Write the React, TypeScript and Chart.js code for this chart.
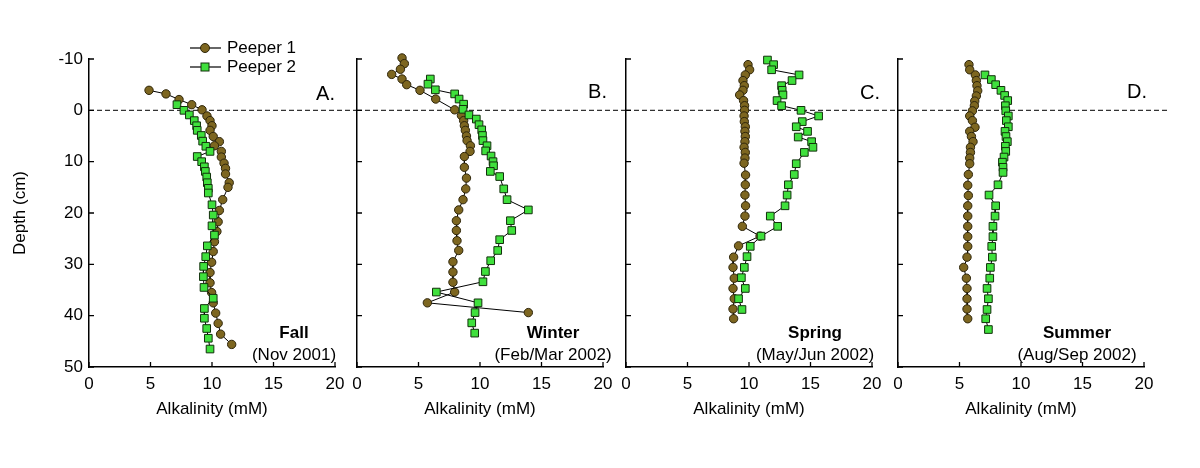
import React, { useEffect, useRef } from 'react';
import { Chart, registerables } from 'chart.js';

Chart.register(...registerables);

// ---------- DATA ----------
const xTicksStep = 5;
const yTicksStep = 10;
const seriesNames = ['Peeper 1', 'Peeper 2'];

// Panel A – Fall (Nov 2001)
const fallDepth1 = [-3.9, -3.2, -2.1, -1.1, -0.1, 1.1, 2.0, 3.0, 3.9, 5.1, 6.1, 6.9, 8.0, 9.1, 10.3, 11.3, 12.4, 14.1, 15.0, 17.4, 19.5, 21.7, 23.6, 25.6, 27.5, 29.6, 31.6, 33.6, 35.5, 37.5, 39.5, 41.5, 43.6, 45.6];
const fallAlk1 = [4.88, 6.26, 7.32, 8.35, 9.19, 9.59, 9.84, 10.0, 9.84, 10.1, 10.6, 10.2, 10.76, 10.76, 10.98, 11.1, 11.1, 11.4, 11.3, 10.87, 10.6, 10.5, 10.4, 10.2, 10.1, 9.97, 9.84, 9.84, 9.97, 10.1, 10.3, 10.5, 10.7, 11.6];
const fallDepth2 = [-1.1, 0.0, 0.9, 2.0, 3.0, 3.9, 4.9, 6.0, 7.0, 8.0, 9.0, 10.0, 11.0, 11.9, 13.0, 14.1, 15.2, 16.1, 18.4, 20.4, 22.5, 24.3, 26.4, 28.5, 30.4, 32.4, 34.5, 36.6, 38.6, 40.5, 42.5, 44.4, 46.5];
const fallAlk2 = [7.15, 7.72, 8.16, 8.56, 8.75, 8.8, 9.13, 9.24, 9.5, 9.84, 8.8, 9.16, 9.38, 9.46, 9.57, 9.62, 9.7, 9.7, 10.0, 10.1, 10.0, 10.2, 9.62, 9.49, 9.32, 9.3, 9.35, 10.1, 9.38, 9.38, 9.57, 9.7, 9.84];

// Panel B – Winter (Feb/Mar 2002)
const winterDepth1 = [-10.2, -9.1, -8.0, -7.0, -6.1, -5.0, -3.9, -2.2, -0.1, 1.0, 2.0, 3.0, 3.9, 5.0, 5.9, 6.9, 8.0, 9.0, 11.1, 13.2, 15.3, 17.4, 19.4, 21.5, 23.4, 25.4, 27.3, 29.5, 31.5, 33.5, 35.4, 37.5, 39.4];
const winterAlk1 = [3.66, 3.85, 3.53, 2.82, 3.66, 4.04, 5.12, 6.4, 7.94, 8.49, 8.67, 8.73, 8.81, 8.9, 8.95, 9.22, 9.19, 8.73, 8.73, 8.9, 8.84, 8.62, 8.27, 8.08, 8.08, 8.13, 8.27, 7.8, 7.8, 7.8, 7.94, 5.72, 13.93];
const winterDepth2 = [-6.1, -5.1, -4.0, -3.2, -2.2, -1.2, -0.2, 0.9, 1.7, 2.8, 3.8, 4.9, 5.9, 6.9, 7.9, 8.9, 10.0, 10.8, 11.9, 12.9, 15.3, 17.4, 19.4, 21.5, 23.4, 25.2, 27.3, 29.3, 31.4, 33.4, 35.4, 37.5, 39.4, 41.4, 43.4];
const winterAlk2 = [5.96, 5.77, 6.37, 7.94, 8.3, 8.67, 8.62, 9.1, 9.7, 9.92, 10.14, 10.2, 10.24, 10.57, 10.46, 10.9, 11.06, 11.1, 10.84, 11.6, 11.93, 12.2, 13.93, 12.47, 12.58, 11.6, 11.44, 10.87, 10.44, 10.24, 6.45, 9.84, 9.6, 9.33, 9.57];

// Panel C – Spring (May/Jun 2002)
const springDepth1 = [-8.9, -7.9, -6.9, -5.8, -4.8, -3.9, -3.0, -1.9, -0.9, 0.0, 1.1, 2.2, 3.2, 4.1, 5.1, 6.1, 7.2, 8.2, 9.3, 10.3, 12.6, 14.5, 16.5, 18.6, 20.6, 22.6, 24.5, 26.4, 28.6, 30.6, 32.7, 34.7, 36.7, 38.7, 40.6];
const springAlk1 = [9.92, 10.05, 9.7, 9.51, 9.62, 9.51, 9.24, 9.56, 9.64, 9.64, 9.6, 9.62, 9.7, 9.67, 9.7, 9.67, 9.6, 9.7, 9.67, 9.6, 9.72, 9.7, 9.67, 9.72, 9.67, 9.46, 10.9, 9.15, 8.75, 8.7, 8.8, 8.7, 8.8, 8.7, 8.75];
const springDepth2 = [-9.8, -8.9, -7.9, -6.9, -5.8, -4.8, -3.9, -3.0, -1.9, -0.9, 0.0, 1.1, 2.2, 3.2, 4.1, 5.2, 6.1, 7.2, 8.2, 10.4, 12.5, 14.5, 16.5, 18.6, 20.6, 22.6, 24.5, 26.5, 28.5, 30.6, 32.6, 34.7, 36.7, 38.8];
const springAlk2 = [11.5, 12.0, 11.84, 14.07, 13.5, 12.65, 12.7, 12.76, 12.28, 12.65, 14.23, 15.66, 14.33, 13.84, 14.76, 14.0, 15.09, 15.2, 14.5, 13.84, 13.68, 13.2, 13.1, 12.93, 11.73, 12.33, 10.98, 10.1, 9.84, 9.62, 9.38, 9.7, 9.15, 9.43];

// Panel D – Summer (Aug/Sep 2002)
const summerDepth1 = [-8.9, -7.9, -6.9, -5.8, -4.8, -3.8, -2.8, -1.8, -0.9, 0.1, 1.1, 2.0, 3.3, 4.1, 5.1, 6.1, 7.2, 8.2, 9.3, 10.4, 12.5, 14.6, 16.6, 18.6, 20.6, 22.6, 24.6, 26.5, 28.6, 30.6, 32.7, 34.7, 36.7, 38.7, 40.6];
const summerAlk1 = [5.77, 5.83, 6.29, 6.37, 6.42, 6.48, 6.37, 6.24, 6.21, 6.05, 5.83, 6.05, 6.26, 5.83, 5.97, 6.1, 5.89, 5.89, 5.83, 5.83, 5.72, 5.67, 5.72, 5.67, 5.67, 5.67, 5.67, 5.67, 5.61, 5.34, 5.56, 5.61, 5.61, 5.61, 5.67];
const summerDepth2 = [-6.9, -6.0, -5.0, -3.9, -2.9, -1.9, -0.9, 0.1, 1.1, 2.0, 3.2, 4.1, 5.1, 6.1, 7.0, 8.0, 9.1, 10.1, 11.1, 12.1, 14.5, 16.5, 18.6, 20.6, 22.6, 24.6, 26.5, 28.6, 30.6, 32.7, 34.7, 36.7, 38.8, 40.6, 42.7];
const summerAlk2 = [7.07, 7.59, 7.94, 8.37, 8.67, 8.92, 8.73, 8.76, 8.97, 8.81, 8.97, 8.7, 8.78, 8.89, 8.73, 8.76, 8.62, 8.49, 8.54, 8.54, 8.13, 7.4, 7.94, 7.89, 7.72, 7.72, 7.62, 7.67, 7.51, 7.46, 7.24, 7.35, 7.24, 7.13, 7.35];

const panelLetters = ['A.', 'B.', 'C.', 'D.'];
const seasonNames = ['Fall', 'Winter', 'Spring', 'Summer'];
const seasonDates = ['(Nov 2001)', '(Feb/Mar 2002)', '(May/Jun 2002)', '(Aug/Sep 2002)'];

// ---------- STYLE / LAYOUT ----------
const FONT = "'Liberation Sans', Arial, Helvetica, sans-serif";
const BROWN = '#7d6620';
const BROWN_EDGE = '#2e250a';
const GREEN = '#3fe03c';
const GREEN_EDGE = '#12300c';
const Y_W = 89;        // width reserved for y axis
const PLOT_W = 246;
const RIGHT_PAD = 34;
const CANVAS_W = Y_W + PLOT_W + RIGHT_PAD;
const CANVAS_H = 468;
const TOP = 59;
const X_H = 101;

type PanelDef = {
  axisX: number;
  letterRight: number;
  letterY: number;
  seasonCx: number;
  dashEnd: number;
  first: boolean;
  d1: number[]; a1: number[]; d2: number[]; a2: number[];
};

const panels: PanelDef[] = [
  { axisX: 89, letterRight: 335, letterY: 94, seasonCx: 294, dashEnd: 357, first: true, d1: fallDepth1, a1: fallAlk1, d2: fallDepth2, a2: fallAlk2 },
  { axisX: 357, letterRight: 607, letterY: 92, seasonCx: 553, dashEnd: 626, first: false, d1: winterDepth1, a1: winterAlk1, d2: winterDepth2, a2: winterAlk2 },
  { axisX: 626, letterRight: 880, letterY: 93, seasonCx: 815, dashEnd: 898, first: false, d1: springDepth1, a1: springAlk1, d2: springDepth2, a2: springAlk2 },
  { axisX: 898, letterRight: 1147, letterY: 92, seasonCx: 1077, dashEnd: 1168, first: false, d1: summerDepth1, a1: summerAlk1, d2: summerDepth2, a2: summerAlk2 },
];

const zip = (xs: number[], ys: number[]) => xs.map((x, i) => ({ x, y: ys[i] }));

function PanelChart({ p, idx }: { p: PanelDef; idx: number }) {
  const ref = useRef<HTMLCanvasElement>(null);
  useEffect(() => {
    if (!ref.current) return;
    const offX = p.axisX - Y_W;
    const overlay = {
      id: 'overlay' + idx,
      beforeDatasetsDraw(chart: any) {
        const { ctx } = chart;
        const y0 = chart.scales.y.getPixelForValue(0);
        ctx.save();
        ctx.strokeStyle = '#333';
        ctx.lineWidth = 1.2;
        ctx.setLineDash([5, 3]);
        ctx.beginPath();
        ctx.moveTo(chart.chartArea.left, y0);
        ctx.lineTo(p.dashEnd - offX, y0);
        ctx.stroke();
        ctx.restore();
      },
      afterDraw(chart: any) {
        const { ctx, chartArea } = chart;
        const xs = chart.scales.x;
        const ys = chart.scales.y;
        ctx.save();
        // inward tick marks
        ctx.strokeStyle = '#000';
        ctx.lineWidth = 1.3;
        ctx.beginPath();
        xs.ticks.forEach((t: any) => {
          const px = xs.getPixelForValue(t.value);
          ctx.moveTo(px, chartArea.bottom);
          ctx.lineTo(px, chartArea.bottom - 5);
        });
        ys.ticks.forEach((t: any) => {
          const py = ys.getPixelForValue(t.value);
          ctx.moveTo(chartArea.left, py);
          ctx.lineTo(chartArea.left + 5, py);
        });
        ctx.stroke();
        // panel letter
        ctx.fillStyle = '#000';
        ctx.textBaseline = 'middle';
        ctx.textAlign = 'right';
        ctx.font = `20px ${FONT}`;
        ctx.fillText(panelLetters[idx], p.letterRight - offX, p.letterY);
        // season label
        ctx.textAlign = 'center';
        ctx.font = `bold 17px ${FONT}`;
        ctx.fillText(seasonNames[idx], p.seasonCx - offX, 333);
        ctx.font = `17px ${FONT}`;
        ctx.fillText(seasonDates[idx], p.seasonCx - offX, 355);
        // legend
        if (p.first) {
          const rows = [48, 67];
          rows.forEach((ry, i) => {
            ctx.strokeStyle = '#000';
            ctx.lineWidth = 1.2;
            ctx.beginPath();
            ctx.moveTo(190 - offX, ry);
            ctx.lineTo(221 - offX, ry);
            ctx.stroke();
            ctx.lineWidth = 1;
            if (i === 0) {
              ctx.fillStyle = BROWN;
              ctx.strokeStyle = BROWN_EDGE;
              ctx.beginPath();
              ctx.arc(205 - offX, ry, 4.5, 0, Math.PI * 2);
              ctx.fill();
              ctx.stroke();
            } else {
              ctx.fillStyle = GREEN;
              ctx.strokeStyle = GREEN_EDGE;
              ctx.fillRect(205 - offX - 4, ry - 4, 8, 8);
              ctx.strokeRect(205 - offX - 4, ry - 4, 8, 8);
            }
            ctx.fillStyle = '#000';
            ctx.textAlign = 'left';
            ctx.font = `17px ${FONT}`;
            ctx.fillText(seriesNames[i], 227 - offX, ry);
          });
        }
        ctx.restore();
      },
    };

    const chart = new Chart(ref.current, {
      type: 'scatter',
      data: {
        datasets: [
          {
            label: seriesNames[0],
            data: zip(p.a1, p.d1),
            showLine: true,
            borderColor: '#000',
            borderWidth: 1,
            pointStyle: 'circle',
            pointRadius: 4.2,
            pointBackgroundColor: BROWN,
            pointBorderColor: BROWN_EDGE,
            pointBorderWidth: 1,
            order: 1,
            clip: false,
          } as any,
          {
            label: seriesNames[1],
            data: zip(p.a2, p.d2),
            showLine: true,
            borderColor: '#000',
            borderWidth: 1,
            pointStyle: 'rect',
            pointRadius: 5.4,
            pointBackgroundColor: GREEN,
            pointBorderColor: GREEN_EDGE,
            pointBorderWidth: 1,
            order: 0,
            clip: false,
          } as any,
        ],
      },
      options: {
        responsive: false,
        animation: false,
        events: [],
        layout: { padding: { top: TOP, right: RIGHT_PAD, bottom: 0, left: 0 }, autoPadding: false } as any,
        plugins: { legend: { display: false }, tooltip: { enabled: false } },
        scales: {
          x: {
            type: 'linear',
            min: 0,
            max: 20,
            ticks: { stepSize: xTicksStep, color: '#000', font: { family: FONT, size: 17 }, padding: 7, maxRotation: 0 },
            grid: { display: false, drawTicks: false },
            border: { display: true, color: '#000', width: 1.5 },
            title: { display: true, text: 'Alkalinity (mM)', color: '#000', font: { family: FONT, size: 17 }, padding: { top: 0, bottom: 48 } },
            afterFit: (s: any) => { s.height = X_H; },
          },
          y: {
            type: 'linear',
            reverse: true,
            min: -10,
            max: 50,
            ticks: { display: p.first, stepSize: yTicksStep, color: '#000', font: { family: FONT, size: 17 }, padding: 6 },
            grid: { display: false, drawTicks: false },
            border: { display: true, color: '#000', width: 1.5 },
            title: { display: p.first, text: 'Depth (cm)', color: '#000', font: { family: FONT, size: 17 }, padding: { top: 10, bottom: 0 } },
            afterFit: (s: any) => { s.width = Y_W; },
          },
        },
      } as any,
      plugins: [overlay],
    });
    return () => chart.destroy();
  }, []);
  return (
    <canvas
      ref={ref}
      width={CANVAS_W}
      height={CANVAS_H}
      style={{ position: 'absolute', left: p.axisX - Y_W, top: 0, width: CANVAS_W, height: CANVAS_H }}
    />
  );
}

export default function App() {
  return (
    <div style={{ position: 'absolute', left: 0, top: 0, width: 1200, height: 468, background: '#fff', overflow: 'hidden' }}>
      {panels.map((p, i) => (
        <PanelChart key={i} p={p} idx={i} />
      ))}
    </div>
  );
}
